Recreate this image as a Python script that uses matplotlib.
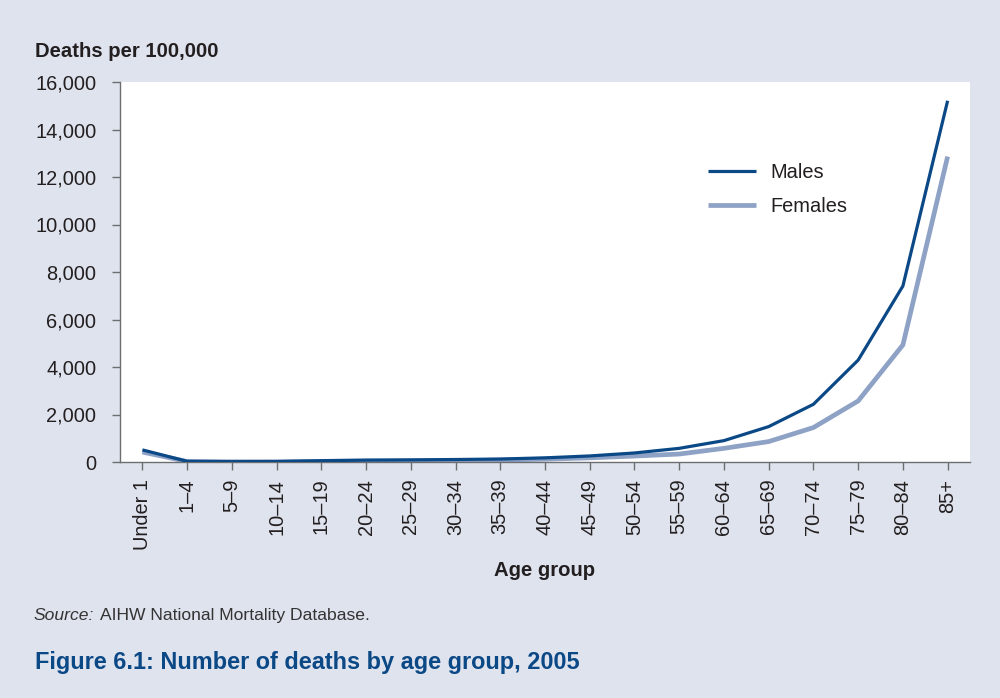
import matplotlib
matplotlib.use("Agg")
import matplotlib.pyplot as plt
from matplotlib.ticker import FuncFormatter

age_groups = ["Under 1", "1–4", "5–9", "10–14", "15–19", "20–24", "25–29",
              "30–34", "35–39", "40–44", "45–49", "50–54", "55–59", "60–64",
              "65–69", "70–74", "75–79", "80–84", "85+"]
males = [510, 30, 15, 18, 55, 80, 90, 105, 125, 175, 255, 380, 575, 900,
         1490, 2430, 4290, 7410, 15210]
females = [420, 22, 10, 12, 28, 35, 40, 55, 80, 120, 175, 250, 335, 575,
           860, 1450, 2570, 4930, 12860]

BG = "#dfe3ee"
MALE = "#0b4886"
FEMALE = "#8ea2c6"
TEXT = "#231f20"
SPINE = "#6d6e71"
TITLE = "#0b4886"

plt.rcParams["font.family"] = ["Liberation Sans", "DejaVu Sans"]

W, H = 1000, 698
fig = plt.figure(figsize=(W / 100, H / 100), dpi=100, facecolor=BG)
ax = fig.add_axes([120 / W, 1 - 462 / H, 850 / W, 380 / H])
ax.set_facecolor("white")

x = list(range(len(age_groups)))
ax.plot(x, females, color=FEMALE, lw=3.4, solid_capstyle="butt", label="Females", zorder=2)
ax.plot(x, males, color=MALE, lw=2.3, solid_capstyle="butt", label="Males", zorder=3)

ax.set_xlim(-0.5, 18.5)
ax.set_ylim(0, 16000)
ax.set_yticks(range(0, 16001, 2000))
ax.yaxis.set_major_formatter(FuncFormatter(lambda v, p: f"{int(v):,}"))
ax.set_xticks(x)
ax.set_xticklabels(age_groups, rotation=90, ha="center", va="top")

for side in ("top", "right"):
    ax.spines[side].set_visible(False)
for side in ("left", "bottom"):
    ax.spines[side].set_color(SPINE)
    ax.spines[side].set_linewidth(1.0)
ax.tick_params(axis="both", colors=SPINE, length=6, width=1.0, labelcolor=TEXT,
               labelsize=14.4)
ax.tick_params(axis="y", pad=11)
ax.tick_params(axis="x", pad=6)

ax.set_xlabel("Age group", fontsize=14.6, fontweight="bold", color=TEXT, labelpad=8)

handles, labels = ax.get_legend_handles_labels()
ax.legend(handles[::-1], labels[::-1], loc="center left", bbox_to_anchor=(0.67, 0.717),
          frameon=False, fontsize=14.4, handlelength=2.4, handletextpad=0.75,
          labelspacing=0.75, labelcolor=TEXT)

fig.text(35 / W, 1 - 57 / H, "Deaths per 100,000", fontsize=14.6, fontweight="bold",
         color=TEXT, ha="left", va="baseline")
fig.text(34 / W, 1 - 620 / H, "Source:", fontsize=12.6, style="italic",
         color="#333333", ha="left", va="baseline")
fig.text(100 / W, 1 - 620 / H, "AIHW National Mortality Database.", fontsize=12.6,
         color="#333333", ha="left", va="baseline")
fig.text(35 / W, 1 - 669 / H, "Figure 6.1: Number of deaths by age group, 2005",
         fontsize=16.9, fontweight="bold", color=TITLE, ha="left", va="baseline")

fig.savefig("out.png", dpi=100, facecolor=BG)
